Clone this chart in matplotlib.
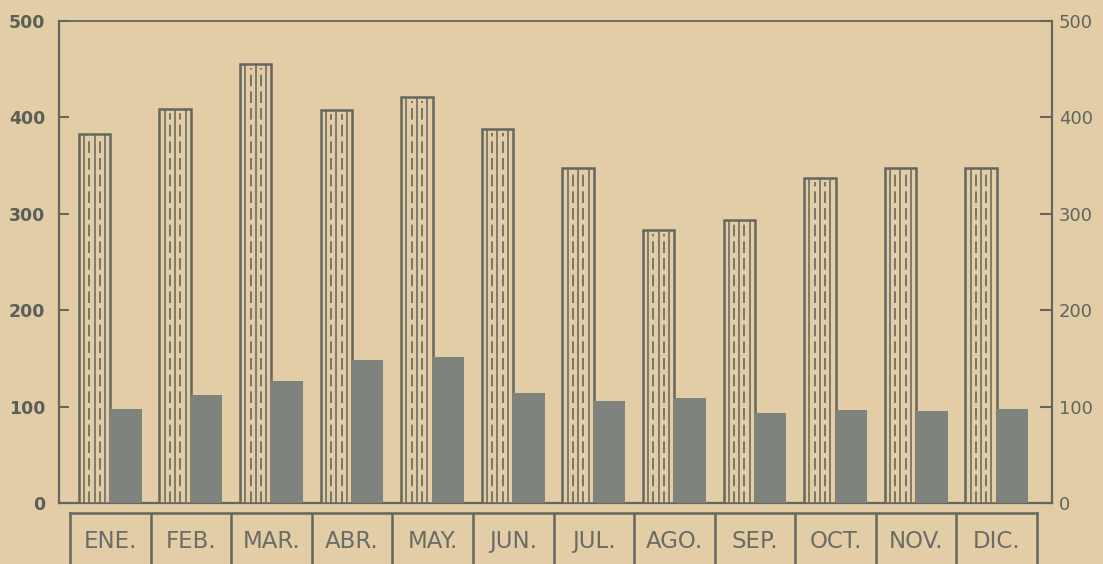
import numpy as np
import matplotlib.pyplot as plt

months = ["ENE.", "FEB.", "MAR.", "ABR.", "MAY.", "JUN.",
          "JUL.", "AGO.", "SEP.", "OCT.", "NOV.", "DIC."]
hatched_vals = [383, 409, 455, 408, 421, 388, 347, 283, 294, 337, 347, 347]
dark_vals = [97, 112, 127, 148, 151, 114, 106, 109, 93, 96, 95, 97]
yticks = [0, 100, 200, 300, 400, 500]

bg = '#e2cda6'
ink = '#65675f'
dark = '#7f837d'

W, H = 1103, 564
fig = plt.figure(figsize=(W / 100, H / 100), dpi=100)
fig.patch.set_facecolor(bg)

ax = fig.add_axes([59 / W, (H - 503) / H, (1052 - 59) / W, (503 - 21) / H])
ax.set_facecolor(bg)
ax.set_ylim(0, 500)
ax.set_xlim(-0.5 - 11 / 80.6, 11.5 + 15 / 80.6)

x = np.arange(len(months))
bw = 0.39
hb = ax.bar(x - bw / 2, hatched_vals, bw, color=bg, edgecolor=ink, linewidth=1.8, zorder=3)
db = ax.bar(x + bw / 2, dark_vals, bw, color=dark, edgecolor='none', zorder=3)

# inner lines of the striped bars: solid and dashed alternating
for rect in hb:
    x0, w, h = rect.get_x(), rect.get_width(), rect.get_height()
    for k in range(1, 6):
        xx = x0 + w * k / 6
        if k % 2 == 1:
            ax.vlines(xx, 0, h, color=ink, linewidth=1.1, zorder=4)
        else:
            ax.vlines(xx, 0, h - 4, color=ink, linewidth=1.2, linestyles=(0, (7, 3)), zorder=4)

for s in ax.spines.values():
    s.set_color(ink)
    s.set_linewidth(1.6)
ax.spines['top'].set_linewidth(1.3)

ax.set_xticks([])
ax.set_yticks(yticks)
ax.set_yticklabels([str(v) for v in yticks], fontsize=12.5, fontweight='bold', color='#5c5e58')
ax.tick_params(axis='y', direction='in', length=7, width=1.5, color=ink, pad=10)

ax2 = ax.twinx()
ax2.set_ylim(0, 500)
ax2.set_yticks(yticks)
ax2.set_yticklabels([str(v) for v in yticks], fontsize=13, color='#62645e')
ax2.tick_params(axis='y', direction='in', length=9, width=1.5, color=ink, pad=5)
for s in ax2.spines.values():
    s.set_visible(False)
labels = ax2.get_yticklabels()
labels[0].set_y(-2)

# month boxes below the chart
axb = fig.add_axes([70 / W, -20 / H, (1037 - 70) / W, (H - 513 + 20) / H])
axb.set_facecolor('none')
axb.set_xlim(-0.5, len(months) - 0.5)
axb.set_ylim(0, 1)
axb.set_xticks([])
axb.set_yticks([])
for s in axb.spines.values():
    s.set_color(ink)
    s.set_linewidth(1.8)
axb.vlines(x[:-1] + 0.5, 0, 1, color=ink, linewidth=1.8)
for i, m in enumerate(months):
    axb.text(i, 0.6, m, ha='center', va='center', fontsize=16.5, color='#6a6c66')

fig.savefig('out.png', dpi=100, facecolor=bg)
